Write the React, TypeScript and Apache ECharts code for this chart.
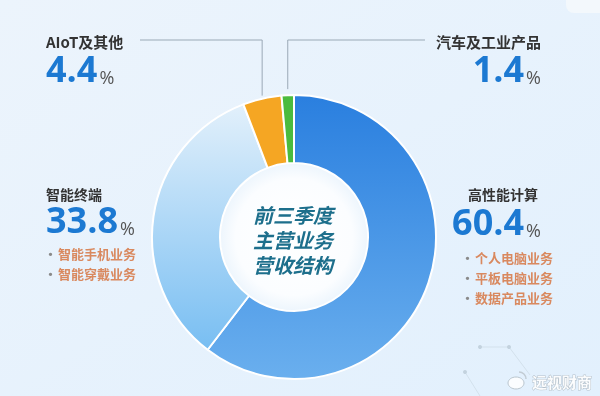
import React, { useEffect, useRef } from "react";
import * as echarts from "echarts";

const categories = ["高性能计算", "智能终端", "AIoT及其他", "汽车及工业产品"];
const shares = [60.4, 33.8, 4.4, 1.4];
const subItems = [
  ["个人电脑业务", "平板电脑业务", "数据产品业务"],
  ["智能手机业务", "智能穿戴业务"],
  [],
  [],
];
const centerTitle = ["前三季度", "主营业务", "营收结构"];
const watermark = "远视财商";

const CJK = '"Noto Sans CJK SC", "Noto Sans", sans-serif';
const NUM = '"Open Sans", "Noto Sans", sans-serif';

const CX = 294;
const CY = 237;
const R_IN = 74;
const R_OUT = 142;

function sliceMidPoint(i: number, r: number) {
  const total = shares.reduce((a, b) => a + b, 0);
  let before = 0;
  for (let k = 0; k < i; k++) before += shares[k];
  const mid = ((before + shares[i] / 2) / total) * 2 * Math.PI;
  return [CX + r * Math.sin(mid), CY - r * Math.cos(mid)];
}

function pctText(i: number) {
  return `{n|${shares[i].toFixed(1)}}{p|%}`;
}

const pctRich = {
  n: { font: `bold 36px ${NUM}`, fill: "#1c79d2", lineHeight: 32, verticalAlign: "bottom" },
  p: { font: `18px ${NUM}`, fill: "#555555", lineHeight: 18, verticalAlign: "bottom", padding: [0, 0, 0, 2] },
};

const bulletRich = {
  d: { font: `bold 13px ${CJK}`, fill: "#8a8a8a", padding: [0, 1, 0, 0] },
  t: { font: `bold 13px ${CJK}`, fill: "#d9895f" },
};

function text(x: number, y: number, str: string, font: string, fill: string, align = "left", extra: any = {}) {
  return {
    type: "text",
    x,
    y,
    z: 10,
    style: {
      text: str,
      font,
      fill,
      align,
      textAlign: align,
      verticalAlign: "middle",
      textVerticalAlign: "middle",
      ...extra,
    },
  };
}

function richText(x: number, y: number, str: string, rich: any, align = "left") {
  return {
    type: "text",
    x,
    y,
    z: 10,
    style: {
      text: str,
      rich,
      align,
      textAlign: align,
      verticalAlign: "middle",
      textVerticalAlign: "middle",
    },
  };
}

export default function App() {
  const ref = useRef<HTMLDivElement>(null);

  useEffect(() => {
    if (!ref.current) return;
    const chart = echarts.init(ref.current, undefined, { renderer: "svg" });

    const pieColors = [
      new echarts.graphic.LinearGradient(0, 0, 0, 1, [
        { offset: 0, color: "#2a7fdf" },
        { offset: 1, color: "#6aafee" },
      ]),
      new echarts.graphic.LinearGradient(0, 0, 0, 1, [
        { offset: 0, color: "#e2f0fb" },
        { offset: 1, color: "#78bef2" },
      ]),
      "#f5a623",
      "#4bbb3e",
    ];

    const aiot = sliceMidPoint(2, R_OUT);
    const auto = sliceMidPoint(3, R_OUT);

    const graphics: any[] = [
      {
        type: "rect",
        z: -10,
        shape: { x: 0, y: 0, width: 600, height: 396 },
        style: {
          fill: new echarts.graphic.LinearGradient(0, 0, 1, 1, [
            { offset: 0, color: "#ecf4fc" },
            { offset: 1, color: "#e2f0fd" },
          ]),
        },
      },
      {
        type: "rect",
        z: -9,
        shape: { x: 566, y: -20, width: 60, height: 33, r: 8 },
        style: { fill: "#f3f8fc" },
      },
      // faint network decoration
      { type: "polyline", z: -8, shape: { points: [[480, 347], [509, 347], [530, 375]] }, style: { stroke: "#d3e1ec", lineWidth: 1, fill: null } },
      { type: "polyline", z: -8, shape: { points: [[465, 372], [480, 396]] }, style: { stroke: "#d3e1ec", lineWidth: 1, fill: null } },
      { type: "circle", z: -8, shape: { cx: 480, cy: 347, r: 2 }, style: { fill: "#c3d2de" } },
      { type: "circle", z: -8, shape: { cx: 509, cy: 347, r: 2 }, style: { fill: "#c3d2de" } },
      { type: "circle", z: -8, shape: { cx: 465, cy: 372, r: 2 }, style: { fill: "#c3d2de" } },
      // inner white disc
      {
        type: "circle",
        z: -5,
        shape: { cx: CX, cy: CY, r: R_IN - 1 },
        style: {
          fill: new echarts.graphic.RadialGradient(0.5, 0.5, 0.5, [
            { offset: 0, color: "#ffffff" },
            { offset: 0.8, color: "#fbfdff" },
            { offset: 1, color: "#eef6fd" },
          ]),
        },
      },
      // leader lines
      {
        type: "polyline",
        z: 5,
        shape: { points: [[140, 40], [aiot[0], 40], [aiot[0], aiot[1] - 3]] },
        style: { stroke: "#9aa9b6", lineWidth: 1, fill: null },
      },
      {
        type: "polyline",
        z: 5,
        shape: { points: [[425, 40], [auto[0], 40], [auto[0], auto[1] - 6]] },
        style: { stroke: "#9aa9b6", lineWidth: 1, fill: null },
      },
      // AIoT
      text(46, 41, categories[2], `bold 15px ${CJK}`, "#333333"),
      richText(46, 70, pctText(2), pctRich),
      // auto
      text(541, 41, categories[3], `bold 15px ${CJK}`, "#333333", "right"),
      richText(541, 70, pctText(3), pctRich, "right"),
      // smart terminal
      text(46, 194, categories[1], `bold 14px ${CJK}`, "#333333"),
      richText(46, 221, pctText(1), pctRich),
      ...subItems[1].map((s, k) => richText(44, 253 + k * 20, `{d|·}{t|${s}}`, bulletRich)),
      // HPC
      text(468, 194, categories[0], `bold 14px ${CJK}`, "#333333"),
      richText(541, 223, pctText(0), pctRich, "right"),
      ...subItems[0].map((s, k) => richText(461, 257 + k * 20, `{d|·}{t|${s}}`, bulletRich)),
      // center title
      {
        type: "text",
        x: CX - 1,
        y: CY + 2,
        z: 10,
        style: {
          text: centerTitle.join("\n"),
          font: `italic bold 20px ${CJK}`,
          fill: "#1d6f8c",
          lineHeight: 25,
          align: "center",
          textAlign: "center",
          verticalAlign: "middle",
          textVerticalAlign: "middle",
        },
      },
      // watermark
      {
        type: "ellipse",
        z: 10,
        shape: { cx: 516, cy: 383, rx: 8, ry: 6 },
        style: { fill: "rgba(255,255,255,0.85)", stroke: "#b9c5ce", lineWidth: 1 },
      },
      {
        type: "arc",
        z: 10,
        shape: { cx: 519, cy: 379, r: 7, startAngle: -Math.PI / 2, endAngle: 0 },
        style: { stroke: "#c2ccd4", lineWidth: 1.5, fill: null },
      },
      text(532, 381, watermark, `bold 15px ${CJK}`, "rgba(255,255,255,0.92)", "left", {
        stroke: "#b5c1cb",
        lineWidth: 1,
      }),
    ];

    chart.setOption({
      animation: false,
      graphic: { elements: graphics },
      series: [
        {
          type: "pie",
          center: [CX, CY],
          radius: [R_IN, R_OUT],
          startAngle: 90,
          clockwise: true,
          silent: true,
          label: { show: false },
          labelLine: { show: false },
          itemStyle: { borderColor: "#ffffff", borderWidth: 2 },
          data: categories.map((name, i) => ({
            name,
            value: shares[i],
            itemStyle: { color: pieColors[i] },
          })),
        },
      ],
    });

    return () => chart.dispose();
  }, []);

  return (
    <div
      ref={ref}
      style={{ position: "fixed", left: 0, top: 0, width: 600, height: 396 }}
    />
  );
}
